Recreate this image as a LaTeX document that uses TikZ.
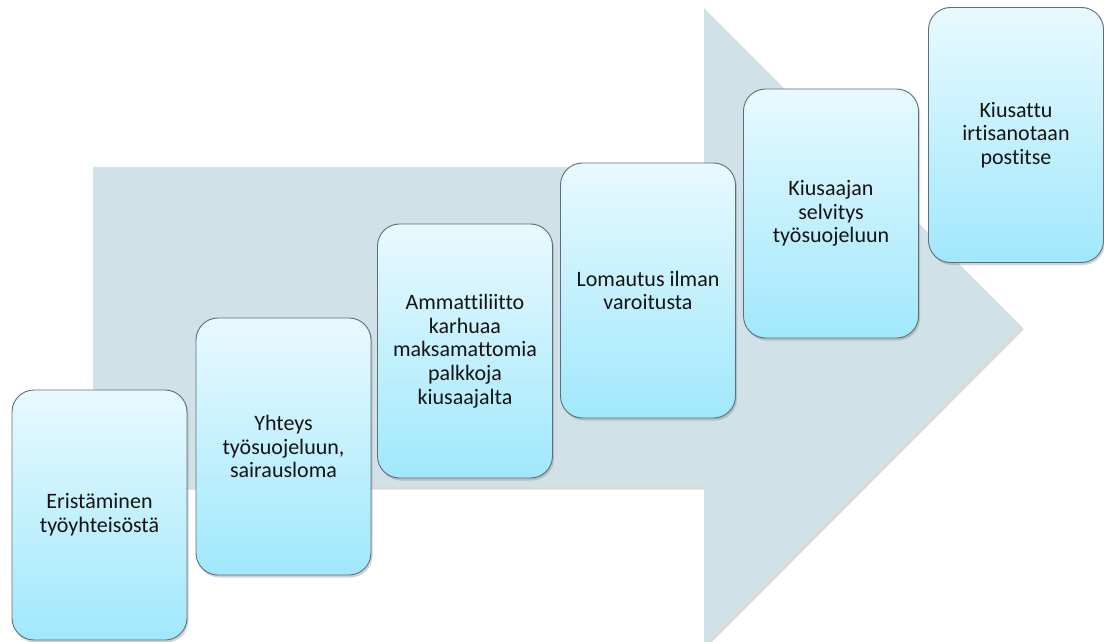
\documentclass[tikz,border=0pt]{standalone}
\usepackage{fontspec}
\setmainfont{Carlito}[Ligatures=NoCommon]
\usetikzlibrary{shadows}
\definecolor{arrowfill}{RGB}{208,225,232}
\definecolor{boxtop}{RGB}{232,249,255}
\definecolor{boxbottom}{RGB}{160,232,252}
\definecolor{boxline}{RGB}{95,110,118}
\tikzset{
  stepbox/.style={
    rectangle, rounded corners=22pt, draw=boxline, line width=0.9pt,
    top color=boxtop, bottom color=boxbottom,
    minimum width=175pt, minimum height=254pt, inner sep=0pt,
    align=center, text=black!92,
    font=\fontsize{22pt}{23.7pt}\selectfont,
    drop shadow={opacity=0.35, shadow xshift=1.5pt, shadow yshift=-2.5pt}
  },
  bigarrow/.style={
    fill=arrowfill,
    drop shadow={opacity=0.3, shadow xshift=1.5pt, shadow yshift=-2.5pt}
  }
}
\begin{document}
\begin{tikzpicture}[x=1pt, y=-1pt]
  \useasboundingbox (0,0) rectangle (1104,642);
  % background block arrow
  \begin{scope}
    \clip (0,0) rectangle (1104,642);
    \path[bigarrow] (93,167) -- (704,167) -- (704,8) -- (1022,327)
      -- (704,646) -- (704,487) -- (93,487) -- cycle;
  \end{scope}
  % rising steps
  \node[stepbox, minimum height=250pt] (s1) at (99.5,515)
    {Eristäminen\\työyhteisöstä};
  \node[stepbox, minimum height=257pt] (s2) at (283.5,446.5)
    {Yhteys\\työsuojeluun,\\sairausloma};
  \node[stepbox] (s3) at (465,351)
    {Ammattiliitto\\karhuaa\\maksamattomia\\palkkoja\\kiusaajalta};
  \node[stepbox, minimum height=255pt] (s4) at (648,290.5)
    {Lomautus ilman\\varoitusta};
  \node[stepbox, minimum height=249pt] (s5) at (831,213.5)
    {Kiusaajan\\selvitys\\työsuojeluun};
  \node[stepbox, minimum height=255pt] (s6) at (1016,135)
    {Kiusattu\\irtisanotaan\\postitse};
\end{tikzpicture}
\end{document}
